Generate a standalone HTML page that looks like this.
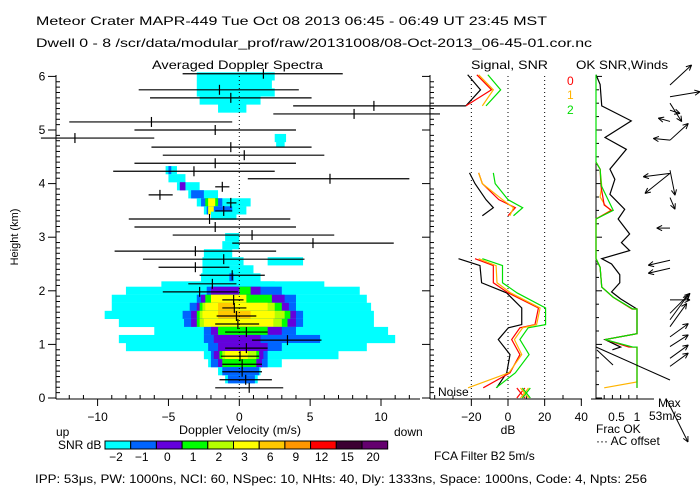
<!DOCTYPE html>
<html><head><meta charset="utf-8"><style>
html,body{margin:0;padding:0;background:#fff;}
svg{display:block;font-family:"Liberation Sans",sans-serif;font-size:12px;}
</style></head><body>
<svg id="chart" width="700" height="500" viewBox="0 0 700 500" xmlns="http://www.w3.org/2000/svg">
<rect width="700" height="500" fill="#fff"/>
<text x="36" y="25" textLength="511" lengthAdjust="spacingAndGlyphs">Meteor Crater  MAPR-449  Tue Oct 08 2013 06:45 - 06:49 UT 23:45 MST</text>
<text x="36" y="47" textLength="556" lengthAdjust="spacingAndGlyphs">Dwell  0 -  8   /scr/data/modular_prof/raw/20131008/08-Oct-2013_06-45-01.cor.nc</text>
<text x="152" y="69" textLength="171" lengthAdjust="spacingAndGlyphs">Averaged Doppler Spectra</text>
<text x="471" y="69" textLength="77" lengthAdjust="spacingAndGlyphs">Signal, SNR</text>
<text x="576" y="69" textLength="92" lengthAdjust="spacingAndGlyphs">OK SNR,Winds</text>
<text transform="translate(18,237) rotate(-90)" text-anchor="middle" font-size="11">Height (km)</text>
<text x="240" y="434" text-anchor="middle" textLength="122" lengthAdjust="spacingAndGlyphs">Doppler Velocity (m/s)</text>
<text x="56" y="436">up</text>
<text x="394" y="436">down</text>
<text x="508" y="434" text-anchor="middle">dB</text>
<text x="596" y="433">Frac OK</text>
<text x="596" y="445">··· AC offset</text>
<text x="658" y="407">Max</text>
<text x="649" y="420">53m/s</text>
<text x="58" y="449">SNR dB</text>
<text x="434" y="460">FCA Filter B2   5m/s</text>
<text x="438" y="396">Noise</text>
<text x="35" y="483" textLength="612" lengthAdjust="spacingAndGlyphs">IPP:  53μs,  PW: 1000ns,  NCI:  60,  NSpec: 10, NHts: 40,  Dly: 1333ns,  Space: 1000ns,  Code: 4,  Npts: 256</text>
<text x="567" y="85" fill="#ff0000">0</text>
<text x="567" y="99" fill="#ffb400">1</text>
<text x="567" y="114" fill="#00dd00">2</text>
<g id="g"></g>
</svg>
<script>
// ---- data ----
const levelColors = ["#00ffff","#0064ff","#6400dc","#00ff00","#b4ff00","#ffff00","#ffc800","#ff9600","#ff0000","#3c0032","#64006e"];
const levelLabels = ["-2","-1","0","1","2","3","6","9","12","15","20"];
const heightTicks = [0,1,2,3,4,5,6];
const velTicks = [-10,-5,0,5,10];
const dbTicks = [-20,0,20,40];
const fracTicks = ["0.5","1"];
const fracTickVals = [0.5,1];
// spectra spans: height, v1, v2, level
const specH = [6.0,5.85,5.7,5.55,5.4,4.85,4.75,4.25,4.25,4.1,3.95,3.95,3.8,3.8,3.65,3.65,3.65,3.65,3.5,3.5,3.5,3.4,3.0,2.85,2.7,2.55,2.55,2.4,2.25,2.25,2.1,2.1,2.0,2.0,2.0,2.0,1.85,1.85,1.85,1.85,1.85,1.7,1.7,1.7,1.7,1.7,1.7,1.7,1.55,1.55,1.55,1.55,1.55,1.55,1.55,1.4,1.4,1.4,1.4,1.4,1.4,1.25,1.25,1.25,1.25,1.1,1.1,1.1,0.95,0.95,0.95,0.8,0.8,0.8,0.8,0.8,0.8,0.65,0.65,0.65,0.65,0.5,0.5,0.35,0.35];
const specV1 = [-3.0,-3.0,-3.0,-2.8,-1.5,2.5,2.6,-5.2,-5.0,-5.0,-4.4,-4.2,-3.6,-3.4,-3.0,-2.7,-2.4,-2.2,-2.5,-2.3,-2.2,-2.0,-1.0,-1.2,-2.5,-2.6,2.0,-2.6,-2.7,-0.7,-5.5,-2.5,-8.0,-2.3,-2.0,0.0,-9.0,-3.0,-2.7,-2.4,-2.0,-9.0,-3.5,-3.0,-2.8,-2.6,-2.4,-1.5,-9.5,-4.0,-3.4,-3.0,-2.8,-2.6,-1.5,-8.5,-3.9,-3.4,-3.0,-2.8,-2.5,-6.0,-2.5,-2.0,-1.5,-8.5,-2.5,-1.8,-8.0,-2.2,-1.5,-2.5,-2.0,-1.8,-1.4,-1.2,-1.0,-2.2,-2.0,-1.5,-1.2,-1.5,-1.2,-1.0,-0.8];
const specV2 = [2.5,2.3,2.5,1.5,0.5,3.3,3.2,-4.4,-4.8,-3.8,-2.8,-3.8,-1.5,-2.5,0.8,-1.2,-1.5,-1.7,0.5,-0.5,-1.8,-0.2,0.0,0.0,-0.5,0.3,4.5,1.0,1.5,-0.4,6.0,2.5,8.5,3.0,1.5,0.8,9.0,4.0,3.2,2.3,0.5,9.3,4.0,3.5,3.0,2.5,2.0,-0.3,9.5,4.5,4.0,3.6,3.2,2.5,0.8,9.5,4.5,4.0,3.4,3.0,2.4,10.5,4.0,3.0,2.0,11.0,5.7,1.5,9.0,3.0,2.0,7.0,2.0,1.7,1.4,1.2,0.6,3.0,2.0,1.6,1.2,1.5,1.4,1.3,1.1];
const specLvl = [0,0,0,0,0,0,0,0,1,0,0,2,0,1,0,1,3,5,0,1,5,0,0,0,0,0,0,0,0,1,0,0,0,1,2,3,0,1,2,3,5,0,1,2,3,4,5,6,0,1,2,3,4,5,6,0,1,2,3,4,5,0,1,2,3,0,1,2,0,1,2,0,1,2,3,4,5,0,1,2,3,0,1,0,1];
// mean velocity bars
const barH = [6.05,5.75,5.6,5.45,5.3,5.15,5.0,4.85,4.68,4.53,4.38,4.23,4.09,3.94,3.79,3.64,3.49,3.34,3.19,3.04,2.89,2.74,2.59,2.44,2.29,2.13,1.98,1.83,1.68,1.53,1.38,1.23,1.08,0.93,0.78,0.63,0.49,0.34,0.19];
const barLo = [-4.0,-7.1,-6.3,3.8,2.4,-12.0,-7.4,-14.0,-6.2,-5.4,-7.4,-8.9,0.6,-1.7,-6.4,-0.9,-1.7,-7.8,-7.4,-4.7,-0.5,-8.8,-6.8,-5.7,-2.8,-3.6,-5.4,-1.2,-1.2,-1.6,-1.7,-1.0,0.9,-1.0,-1.3,-1.2,-1.2,-1.4,-1.7];
const barMid = [1.7,-1.4,-0.6,9.5,8.1,-6.2,-1.7,-11.6,-0.6,0.35,-1.7,-3.2,6.4,-1.2,-5.6,-0.6,-1.1,-2.1,-1.7,0.9,5.2,-3.1,-1.1,-3.1,-0.5,-1.9,-2.8,-0.4,-0.35,-0.2,-0.1,0.5,3.4,0.5,0.05,0.2,0.2,0.45,0.7];
const barHi = [7.3,4.2,5.1,14.2,14.2,-0.5,4.0,-6.0,5.1,6.0,4.0,2.5,12.0,-0.7,-4.7,-0.2,-0.5,3.6,4.0,6.7,10.9,2.6,4.6,-0.7,1.8,-0.2,-0.1,0.3,0.5,1.2,1.4,2.0,5.8,2.0,1.4,1.6,1.6,2.3,3.1];
// signal / snr profiles (height, dB)
const sigSegH = [[6.03,5.75,5.45],[4.2,4.0,3.7,3.55,3.4],[2.6,2.47,2.15,1.96,1.68,1.37,1.31,1.09,0.81,0.47,0.19]];
const sigBlack = [[-22,-15,-23],[-21,-18,-12,-8,-14],[-27,-15.3,-14.4,-0.7,7.5,7.5,0.2,-5.3,1.1,-0.7,-6.2]];
const snrRed = [[-17,-9,-23],[-16,-14,-5,4,0],[-18,-8,-8,0.2,16.6,14.7,6.5,2.0,6.5,1.1,-13.5]];
const snrOrange = [[-16,-8,-14],[-16,-14,-3,3,1],[-16,-6.5,-6,1.5,17.5,15.6,8,3.5,7.5,0.5,-21.8]];
const snrGreen = [[-11,-4,-12],[-8,-7,0,8,3],[-14,-3,-3,5,20.5,20.5,11,6.5,11.5,4,-6.5]];
const noiseDb = [7,9,10];
// frac OK
const fracBlackH = [6.03,5.85,5.45,5.17,4.86,4.64,4.27,4.08,3.8,3.52,3.34,3.06,2.9,2.75,2.6,2.5,2.3,2.15,1.98,1.85,1.66,1.2,1.09,0.95,0.9];
const fracBlack = [0,0.1,0.14,0.86,0.22,0.74,0.34,0.46,0.34,0.7,0.54,0.82,0.62,0.82,0.14,0.38,0.58,0.58,0.38,0.6,1,1,0.22,0.6,0.4];
const fracGreenH = [6.03,4.4,4.27,3.96,3.5,3.34,2.6,2.44,2.07,1.88,1.66,1.66,1.2,1.09,0.95,0.95,0.19];
const fracGreen = [0,0,0.1,0.13,0.42,0,0,0.1,0.14,0.42,0.9,1,1,0.22,0.9,1,1];
const fracRedH = [4.4,4.27,3.96,3.6,3.5,3.34,2.6,2.44,2.07,1.88,1.66,1.66,1.2,1.09,0.95,0.95,0.19];
const fracRed = [0,0.1,0.12,0.2,0.38,0,0,0.1,0.14,0.42,0.88,1,1,0.22,0.8,1,1];
const fracOrangeH = [4.4,4.27,3.96,3.75,3.6,3.5,3.34,2.6,2.44,2.07,1.88,1.66,1.66,1.2,1.09,0.95,0.95,0.3,0.19];
const fracOrange = [0,0.1,0.14,0.1,0.22,0.36,0,0,0.1,0.14,0.42,0.88,1,1,0.22,0.85,1,1,0.2];
// winds
const windH = [5.84,5.62,5.5,5.37,5.16,4.81,4.81,4.19,4.19,4.25,3.74,3.17,2.57,2.42,1.83,1.58,1.46,1.33,1.14,0.96,0.74,0.59];
const windU = [21.6,30,11.7,10,-11.7,18.3,-16.7,-26.7,-25,5,5,-13.3,-21.7,-21.7,20,20,18.3,16.7,18.3,18.3,18.3,18.3];
const windV = [20,5,-18.4,-3.3,3.3,16.7,1.7,-3.3,-20,-25,-11.7,0,-5,-5,0,20,25,23.3,13.3,11.7,13.3,13.3];

// ---- axes ----
const X = v => 239.3 + v*14.17;
const Y = h => 398 - h*53.6;
const D = db => 508 + db*1.833;
const F = f => 596 + f*41;
const NS = "http://www.w3.org/2000/svg";
const g = document.getElementById('g');
function mk(tag, attrs, parent){const e=document.createElementNS(NS,tag);for(const k in attrs)e.setAttribute(k,attrs[k]);(parent||g).appendChild(e);return e;}
function ln(x1,y1,x2,y2,c,w,extra){const a={x1,y1,x2,y2,stroke:c||'#000','stroke-width':w||1};if(extra)Object.assign(a,extra);return mk('line',a);}

const defs = mk('defs',{});
const cp = mk('clipPath',{id:'mainclip'},defs);
mk('rect',{x:0,y:60,width:440,height:340},cp);

const spec = mk('g',{'clip-path':'url(#mainclip)'});


for(let i=0;i<specH.length;i++){
  const r = mk('rect',{x:X(specV1[i]),y:Y(specH[i])-4.1,width:X(specV2[i])-X(specV1[i]),height:8.2,fill:levelColors[specLvl[i]]},spec);
  
  
}
ln(X(0),76,X(0),398,'#000',1,{'stroke-dasharray':'1,3'});
const bars = mk('g',{'clip-path':'url(#mainclip)'});


for(let i=0;i<barH.length;i++){
  const y=Y(barH[i]);
  const b = mk('g',{},bars);
  
  
  mk('line',{x1:X(barLo[i]),y1:y,x2:X(barHi[i]),y2:y,stroke:'#000','stroke-width':1.2},b);
  mk('line',{x1:X(barMid[i]),y1:y-5,x2:X(barMid[i]),y2:y+5,stroke:'#000','stroke-width':1.2},b);
}
ln(56,75,56,399); ln(56,399,420,399);
for(let h=0;h<=6.01;h+=0.1){const y=Y(h);const maj=Math.abs(h-Math.round(h))<0.01;ln(maj?48:56,y,maj?56:60,y);ln(maj?422:430,y,maj?430:434,y);}
heightTicks.forEach(h=>{const t=mk('text',{x:42,y:Y(h)+4,'text-anchor':'middle'});t.textContent=h;});
ln(430,75,430,399);
for(let v=-12;v<=12;v++){const x=X(v);if(x<56||x>420)continue;if(v%5===0)ln(x,399,x,406);else ln(x,395,x,399);}
velTicks.forEach(v=>{const t=mk('text',{x:X(v),y:421,'text-anchor':'middle'});t.textContent=(v<0?'−':'')+Math.abs(v);});

ln(430,399,582,399);
for(let db=-40;db<=40;db+=10){const x=D(db);if(db%20===0&&db>-40)ln(x,399,x,406);else ln(x,395,x,399);}
[-20,0,20].forEach(db=>ln(D(db),76,D(db),398,'#000',1,{'stroke-dasharray':'1,3'}));
dbTicks.forEach(db=>{const t=mk('text',{x:D(db),y:421,'text-anchor':'middle'});t.textContent=(db<0?'−':'')+Math.abs(db);});
function prof(hs,vals,color,name,fx){
  for(let s=0;s<hs.length;s++){
    const pts=hs[s].map((h,i)=>fx(vals[s][i])+','+Y(h)).join(' ');
    const p=mk('polyline',{points:pts,fill:'none',stroke:color,'stroke-width':1.2});
    
    
  }
}
prof(sigSegH,sigBlack,'#000','signal-line',D);
prof(sigSegH,snrRed,'#ff0000','snr-beam-0',D);
prof(sigSegH,snrOrange,'#ffb400','snr-beam-1',D);
prof(sigSegH,snrGreen,'#00e000','snr-beam-2',D);
ln(440,Y(5.45),D(-23),Y(5.45),'#000',1.2);
const nc=['#ff0000','#ffb400','#00e000'];
noiseDb.forEach((db,i)=>{const x=D(db),y=393;const m=mk('g',{stroke:nc[i],'stroke-width':1.2});mk('line',{x1:x-4,y1:y-5,x2:x+4,y2:y+5},m);mk('line',{x1:x-4,y1:y+5,x2:x+4,y2:y-5},m);});

ln(596,75,596,399); ln(591,399,654,399);
for(let h=0;h<=6.01;h+=0.25){ln(596,Y(h),Math.abs(h-Math.round(h))<0.01?602:599,Y(h));}
for(let f=0;f<=1.001;f+=0.2){ln(F(f),395,F(f),399);}
fracTickVals.forEach((f,i)=>{const t=mk('text',{x:F(f),y:421,'text-anchor':'middle'});t.textContent=fracTicks[i];});
prof([fracBlackH],[fracBlack],'#000','frac-ok-black',F);
prof([fracOrangeH],[fracOrange],'#ffb400','frac-ok-beam-1',F);
prof([fracRedH],[fracRed],'#ff0000','frac-ok-beam-0',F);
prof([fracGreenH],[fracGreen],'#00e000','frac-ok-beam-2',F);
ln(596,347,670,380,'#000',1); ln(597,350,613,365,'#000',1);
function arrow(x1,y1,x2,y2,name){
  const a=mk('g',{stroke:'#000','stroke-width':1,fill:'none'});
  
  
  mk('line',{x1,y1,x2,y2},a);
  const ang=Math.atan2(y2-y1,x2-x1),L=6;
  [0.45,-0.45].forEach(o=>mk('line',{x1:x2,y1:y2,x2:x2-L*Math.cos(ang+o),y2:y2-L*Math.sin(ang+o)},a));
}
for(let i=0;i<windH.length;i++){
  const x=670,y=Y(windH[i]);
  arrow(x,y,x+windU[i],y-windV[i],'wind-barb');
}
arrow(667,400,688,442,'max-wind-scale-arrow');

for(let i=0;i<levelColors.length;i++){
  const x=105+i*25.7;
  const r=mk('rect',{x,y:441,width:25.7,height:8,fill:levelColors[i],stroke:'#000','stroke-width':1});
  
  
  const t=mk('text',{x:x+11,y:461,'text-anchor':'middle'});
  t.textContent=levelLabels[i].replace('-','−');
  
  
}
</script>
</body></html>
